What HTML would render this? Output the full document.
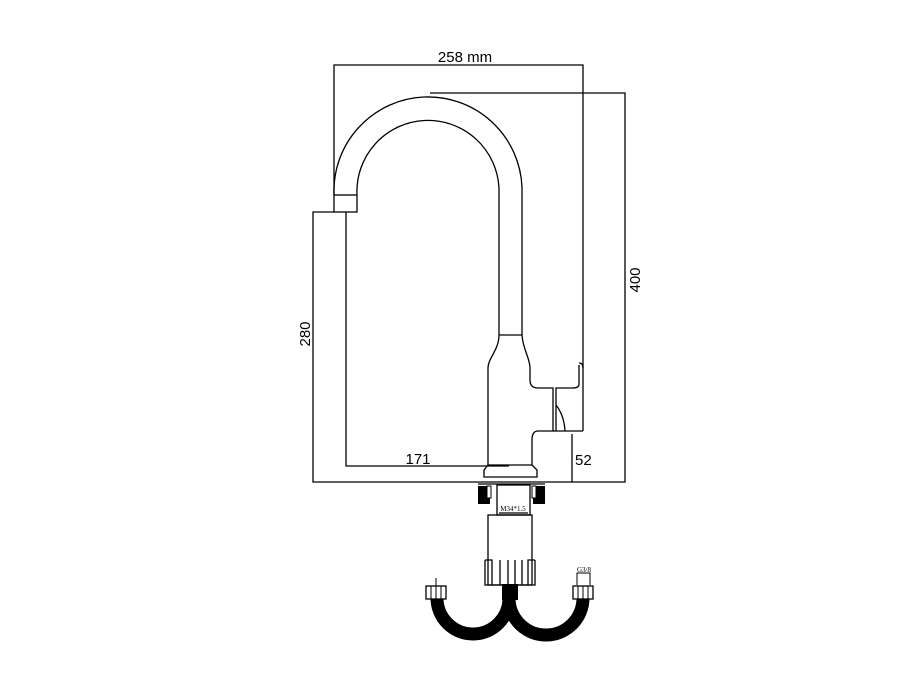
<!DOCTYPE html>
<html><head><style>body{margin:0;background:#fff}svg{display:block}</style></head><body>
<svg width="900" height="679" viewBox="0 0 900 679" xmlns="http://www.w3.org/2000/svg" font-family="Liberation Sans, sans-serif">
<g fill="none" stroke="#000" stroke-width="1.3">
<path d="M334 195 V65 H583 V431"/>
<path d="M430 93 H625 V482 H313 V212 H334"/>
<path d="M346 212 V466 H509"/>
<path d="M572 434 V482"/>
<path d="M334 195 A94 94 0 0 1 522 187 V335"/>
<path d="M357 195 A71 71 0 0 1 499 188 V335"/>
<rect x="334" y="195" width="23" height="17"/>
<path d="M499 335 H522 C523 350 530 358 530 368 V380 Q530 388 538 388 H553 V431 H538 Q532 431 532 440 V465"/>
<path d="M499 335 C499 350 488 358 488 368 V465"/>
<path d="M579 363 Q583 363 583 368 M579 365 V384 Q579 388 573 388 H556 V431 M556 405 Q564 415 565 431 M553 431 H583"/>
<path d="M488 465 H532 L537 470 V477 H484 V470 Z"/>
<path d="M478 484 H545"/>
<rect x="497" y="485" width="33" height="30"/>
<path d="M499 513 H528"/>
<rect x="488" y="515" width="44" height="70"/>
<path d="M485 560 H492 V585 M535 560 H528 V585 M500 560 V585 M508 560 V585 M515 560 V585 M522 560 V585 M485 560 V585 H535 V560"/>
<path d="M577 585 V573 H590 V585" stroke-width="1"/>
<path d="M436 578 V586" stroke-width="1"/>
</g>
<rect x="478" y="486" width="12" height="18" fill="#000"/>
<rect x="533" y="486" width="12" height="18" fill="#000"/>
<rect x="487" y="486" width="4" height="12" fill="#fff" stroke="#000"/>
<rect x="532" y="486" width="4" height="12" fill="#fff" stroke="#000"/>
<path d="M437 598 A36 36 0 0 0 509 598 A36 36 0 0 0 583 598" fill="none" stroke="#000" stroke-width="13"/>
<rect x="502" y="584" width="16" height="16" fill="#000"/>
<rect x="426" y="586" width="20" height="13" fill="#fff" stroke="#000" stroke-width="1.3"/>
<rect x="573" y="586" width="20" height="13" fill="#fff" stroke="#000" stroke-width="1.3"/>
<path d="M431 586 V599 M436 586 V599 M441 586 V599 M578 586 V599 M583 586 V599 M588 586 V599" stroke="#000" stroke-width="1"/>
<text x="465" y="62" font-size="15" text-anchor="middle">258 mm</text>
<text x="418" y="464" font-size="15" text-anchor="middle">171</text>
<text x="575" y="465" font-size="15">52</text>
<text transform="translate(310,334) rotate(-90)" font-size="15" text-anchor="middle">280</text>
<text transform="translate(640,280) rotate(-90)" font-size="15" text-anchor="middle">400</text>
<text x="513" y="511" font-size="7" font-family="Liberation Serif, serif" text-anchor="middle">M34*1.5</text>
<text x="584" y="572" font-size="7" font-family="Liberation Serif, serif" text-anchor="middle">G3/8</text>
</svg>
</body></html>
